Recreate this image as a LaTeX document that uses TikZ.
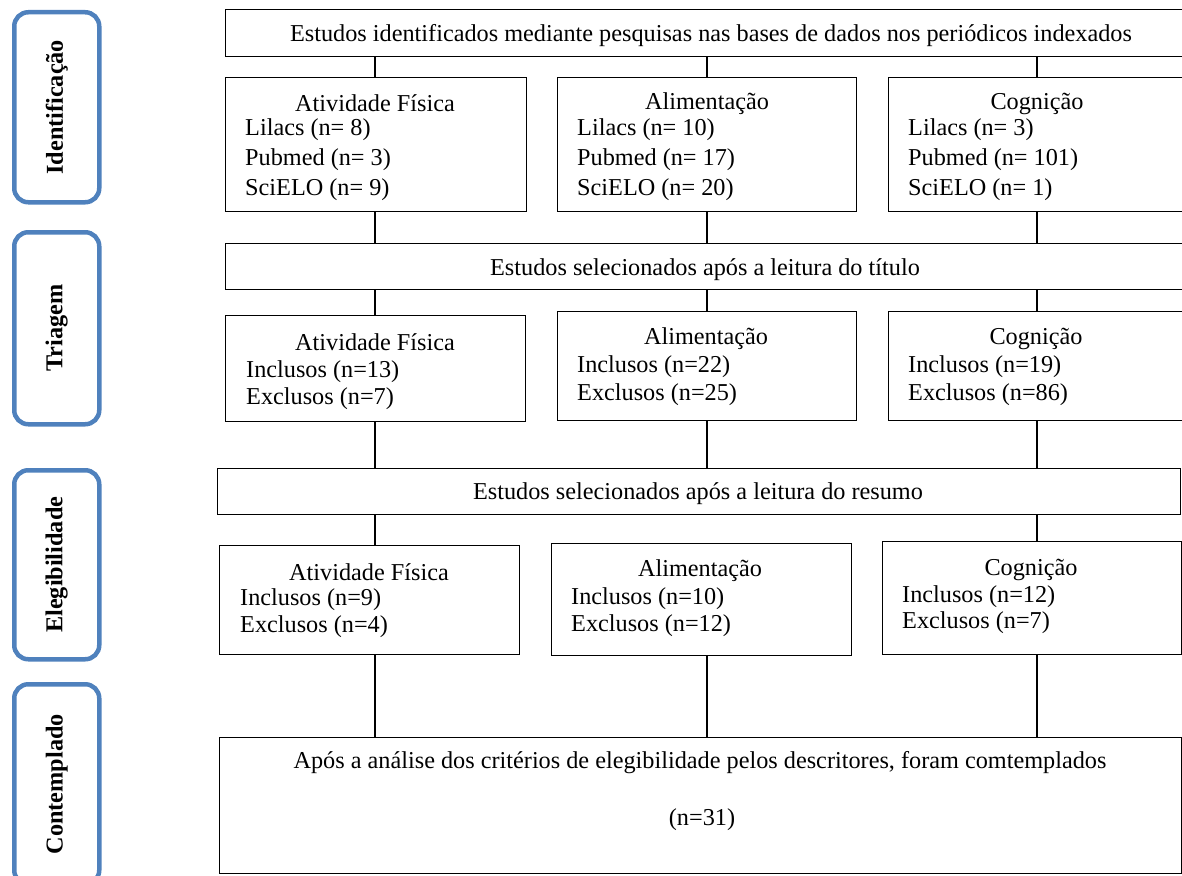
\documentclass[tikz,border=0pt]{standalone}
\usepackage{fontspec}
\setmainfont{Liberation Serif}
\definecolor{phaseblue}{HTML}{4F81BD}
\begin{document}
\begin{tikzpicture}[x=1pt,y=-1pt,
  box/.style={draw=black, line width=1.3pt, rectangle, inner sep=0pt, anchor=north west},
  lbl/.style={inner sep=0pt, yshift=-2.5pt, font=\fontsize{24.25}{28}\selectfont},
  lblw/.style={lbl, anchor=west},
  phase/.style={draw=phaseblue, line width=4.5pt, rounded corners=14pt, rectangle, inner sep=0pt, anchor=north west, minimum width=85pt},
  phasetxt/.style={rotate=90, inner sep=0pt, font=\fontsize{24.25}{28}\selectfont\bfseries},
  link/.style={draw=black, line width=1.3pt}]
\useasboundingbox (0,0) rectangle (1182,875);
\clip (0,0) rectangle (1182,875);

% phase labels
\node[phase, minimum height=190pt] (p1) at (12,10) {};
\node[phase, minimum height=192pt] (p2) at (12,230) {};
\node[phase, minimum height=189pt] (p3) at (12,468) {};
\node[phase, minimum height=200pt] (p4) at (12,682) {};
\node[phasetxt] (p1t) at (p1.center) {Identificação};
\node[phasetxt] (p2t) at (p2.center) {Triagem};
\node[phasetxt] (p3t) at (p3.center) {Elegibilidade};
\node[phasetxt] (p4t) at (p4.center) {Contemplado};

% boxes
\node[box, minimum width=970pt, minimum height=47pt] (bar1) at (225,9) {};
\node[box, minimum width=301pt, minimum height=134pt] (r1af) at (225,77) {};
\node[box, minimum width=299pt, minimum height=134pt] (r1al) at (557,77) {};
\node[box, minimum width=307pt, minimum height=134pt] (r1cg) at (888,77) {};
\node[box, minimum width=970pt, minimum height=46pt] (bar2) at (225,243) {};
\node[box, minimum width=300pt, minimum height=106pt] (r2af) at (225,315) {};
\node[box, minimum width=299pt, minimum height=109pt] (r2al) at (557,311) {};
\node[box, minimum width=307pt, minimum height=109pt] (r2cg) at (888,311) {};
\node[box, minimum width=963pt, minimum height=46pt] (bar3) at (217,468) {};
\node[box, minimum width=300pt, minimum height=109pt] (r3af) at (219,545) {};
\node[box, minimum width=300pt, minimum height=112pt] (r3al) at (551,543) {};
\node[box, minimum width=299pt, minimum height=113pt] (r3cg) at (882,541) {};
\node[box, minimum width=962pt, minimum height=136pt] (bot) at (219,737) {};

% column coordinates
\coordinate (colA) at (375,0);
\coordinate (colB) at (707,0);
\coordinate (colC) at (1037,0);

% connectors
\draw[link] (bar1.south -| colA) -- (r1af.north -| colA);
\draw[link] (bar1.south -| colB) -- (r1al.north -| colB);
\draw[link] (bar1.south -| colC) -- (r1cg.north -| colC);
\draw[link] (r1af.south -| colA) -- (bar2.north -| colA);
\draw[link] (r1al.south -| colB) -- (bar2.north -| colB);
\draw[link] (r1cg.south -| colC) -- (bar2.north -| colC);
\draw[link] (bar2.south -| colA) -- (r2af.north -| colA);
\draw[link] (bar2.south -| colB) -- (r2al.north -| colB);
\draw[link] (bar2.south -| colC) -- (r2cg.north -| colC);
\draw[link] (r2af.south -| colA) -- (bar3.north -| colA);
\draw[link] (r2al.south -| colB) -- (bar3.north -| colB);
\draw[link] (r2cg.south -| colC) -- (bar3.north -| colC);
\draw[link] (bar3.south -| colA) -- (r3af.north -| colA);
\draw[link] (bar3.south -| colC) -- (r3cg.north -| colC);
\draw[link] (r3af.south -| colA) -- (bot.north -| colA);
\draw[link] (r3al.south -| colB) -- (bot.north -| colB);
\draw[link] (r3cg.south -| colC) -- (bot.north -| colC);

% texts
\node[lbl] (t1) at (711,33) {Estudos identificados mediante pesquisas nas bases de dados nos periódicos indexados};
\node[lbl] (t2) at (705,267) {Estudos selecionados após a leitura do título};
\node[lbl] (t3) at (698,491) {Estudos selecionados após a leitura do resumo};
\node[lbl] (t4) at (700,760) {Após a análise dos critérios de elegibilidade pelos descritores, foram comtemplados};
\node[lbl] (t5) at (702,817) {(n=31)};

% row 1
\node[lbl] (a1h) at (375,101) {Atividade Física};
\node[lblw] (a1a) at (245,127) {Lilacs (n= 8)};
\node[lblw] (a1b) at (245,157) {Pubmed (n= 3)};
\node[lblw] (a1c) at (245,187) {SciELO (n= 9)};
\node[lbl] (b1h) at (707,101) {Alimentação};
\node[lblw] (b1a) at (577,127) {Lilacs (n= 10)};
\node[lblw] (b1b) at (577,157) {Pubmed (n= 17)};
\node[lblw] (b1c) at (577,187) {SciELO (n= 20)};
\node[lbl] (c1h) at (1037,101) {Cognição};
\node[lblw] (c1a) at (908,127) {Lilacs (n= 3)};
\node[lblw] (c1b) at (908,157) {Pubmed (n= 101)};
\node[lblw] (c1c) at (908,187) {SciELO (n= 1)};

% row 2
\node[lbl] (a2h) at (375,340) {Atividade Física};
\node[lblw] (a2a) at (246,369) {Inclusos (n=13)};
\node[lblw] (a2b) at (246,396) {Exclusos (n=7)};
\node[lbl] (b2h) at (706,336) {Alimentação};
\node[lblw] (b2a) at (577,364) {Inclusos (n=22)};
\node[lblw] (b2b) at (577,392) {Exclusos (n=25)};
\node[lbl] (c2h) at (1036,336) {Cognição};
\node[lblw] (c2a) at (908,364) {Inclusos (n=19)};
\node[lblw] (c2b) at (908,392) {Exclusos (n=86)};

% row 3
\node[lbl] (a3h) at (369,570) {Atividade Física};
\node[lblw] (a3a) at (240,597) {Inclusos (n=9)};
\node[lblw] (a3b) at (240,624) {Exclusos (n=4)};
\node[lbl] (b3h) at (700,568) {Alimentação};
\node[lblw] (b3a) at (571,596) {Inclusos (n=10)};
\node[lblw] (b3b) at (571,623) {Exclusos (n=12)};
\node[lbl] (c3h) at (1031,567) {Cognição};
\node[lblw] (c3a) at (902,594) {Inclusos (n=12)};
\node[lblw] (c3b) at (902,620) {Exclusos (n=7)};
\end{tikzpicture}
\end{document}
